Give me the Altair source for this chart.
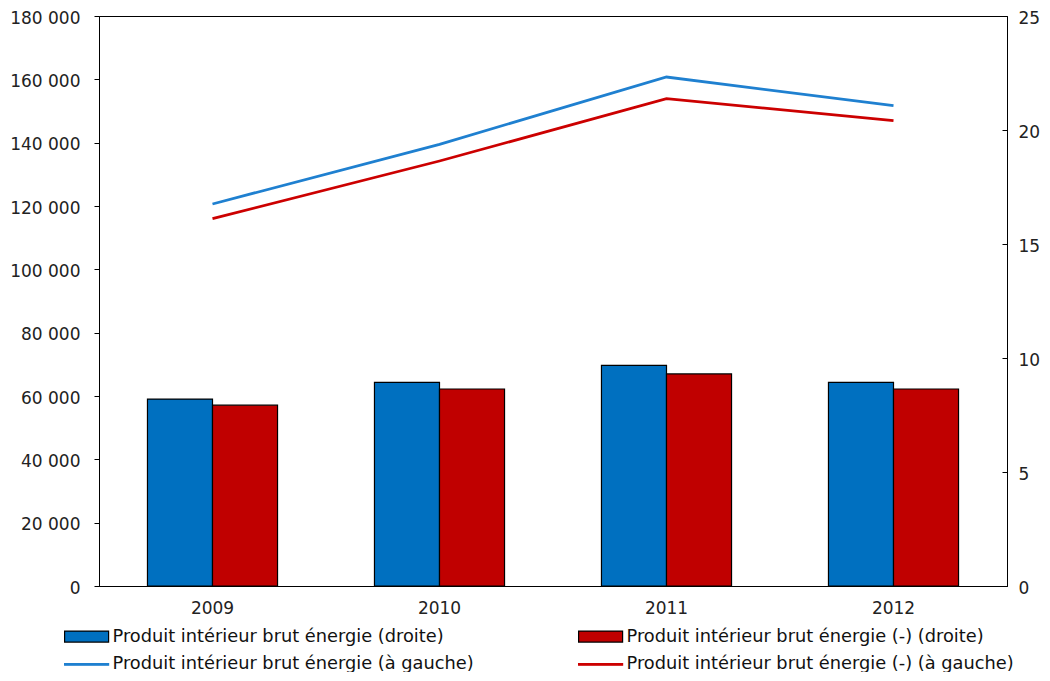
import altair as alt
import pandas as pd

years = ["2009", "2010", "2011", "2012"]
bar_blue = [8.20, 8.93, 9.68, 8.93]
bar_red = [7.93, 8.64, 9.30, 8.64]
line_blue = [120630, 139480, 160740, 151670]
line_red = [115990, 134210, 153880, 146940]

s_bar_blue = "Produit intérieur brut énergie (droite)"
s_bar_red = "Produit intérieur brut énergie (-) (droite)"
s_line_blue = "Produit intérieur brut énergie (à gauche)"
s_line_red = "Produit intérieur brut énergie (-) (à gauche)"
series = [s_bar_blue, s_bar_red, s_line_blue, s_line_red]

left_ticks = [0, 20000, 40000, 60000, 80000, 100000, 120000, 140000, 160000, 180000]
right_ticks = [0, 5, 10, 15, 20, 25]

BLUE_BAR = "#0070C0"
RED_BAR = "#C00000"
BLUE_LINE = "#1F80D0"
RED_LINE = "#CC0000"

bars_df = pd.DataFrame({
    "year": years * 2,
    "series": [s_bar_blue] * 4 + [s_bar_red] * 4,
    "value": bar_blue + bar_red,
})
lines_df = pd.DataFrame({
    "year": years * 2,
    "series": [s_line_blue] * 4 + [s_line_red] * 4,
    "value": line_blue + line_red,
})
legend_df = pd.DataFrame({"series": series})

FONT = "DejaVu Sans"
rect_path = "M-3.667,-0.917H3.667V0.917H-3.667Z"
line_path = "M-3.667,-0.125H3.667V0.125H-3.667Z"

fill_scale = alt.Scale(domain=series, range=[BLUE_BAR, RED_BAR, BLUE_LINE, RED_LINE])
stroke_scale = alt.Scale(domain=series, range=["#000000", "#000000", BLUE_LINE, RED_LINE])
shape_scale = alt.Scale(domain=series, range=[rect_path, rect_path, line_path, line_path])


def leg():
    return alt.Legend(orient="none", legendX=-21.3, legendY=611.5, values=series,
                      direction="horizontal",
                      columns=2, columnPadding=102, rowPadding=9,
                      labelFontSize=17.8, labelFont=FONT, labelColor="#111",
                      labelOffset=17, labelLimit=600, symbolSize=144,
                      symbolStrokeWidth=1.2, symbolOpacity=1, padding=0, title=None)


x_enc = alt.X(
    "year:N",
    sort=years,
    title=None,
    scale=alt.Scale(paddingInner=0.427, paddingOuter=0.2135),
    axis=alt.Axis(labelAngle=0, ticks=False, labelPadding=14, labelFontSize=17,
                  labelFont=FONT, labelColor="#222", domainColor="#000"),
)

lines = alt.Chart(lines_df).mark_line(strokeWidth=2.8).encode(
    x=x_enc,
    y=alt.Y(
        "value:Q",
        title=None,
        scale=alt.Scale(domain=[0, 180000], nice=False),
        axis=alt.Axis(orient="left", values=left_ticks, grid=False, tickSize=5,
                      tickColor="#000", domainColor="#000", labelPadding=14,
                      labelOffset=2,
                      labelFontSize=17, labelFont=FONT, labelColor="#222",
                      labelExpr="replace(format(datum.value, ','), ',', ' ')"),
    ),
    stroke=alt.Stroke("series:N", scale=stroke_scale, title=None, legend=leg()),
)

bars = alt.Chart(bars_df).mark_bar(strokeWidth=1.2).encode(
    x=x_enc,
    xOffset=alt.XOffset("series:N", sort=[s_bar_blue, s_bar_red],
                        scale=alt.Scale(paddingInner=0, paddingOuter=0)),
    y=alt.Y(
        "value:Q",
        title=None,
        scale=alt.Scale(domain=[0, 25], nice=False),
        axis=alt.Axis(orient="right", values=right_ticks, grid=False,
                      tickSize=alt.ExprRef(expr="-5"),
                      tickColor="#000", domainColor="#000", labelPadding=16,
                      labelOffset=2,
                      labelFontSize=17, labelFont=FONT, labelColor="#222"),
    ),
    fill=alt.Fill("series:N", scale=fill_scale, title=None, legend=leg()),
    stroke=alt.Stroke("series:N", scale=stroke_scale, title=None, legend=leg()),
)

legend_pts = alt.Chart(legend_df).mark_point(filled=True, size=0, opacity=1).encode(
    x=alt.value(0),
    y=alt.value(0),
    fill=alt.Fill("series:N", scale=fill_scale, title=None, legend=leg()),
    stroke=alt.Stroke("series:N", scale=stroke_scale, title=None, legend=leg()),
    shape=alt.Shape("series:N", scale=shape_scale, title=None, legend=leg()),
)

chart = (
    alt.layer(lines, bars, legend_pts)
    .resolve_scale(y="independent")
    .properties(
        width=908,
        height=570,
        autosize=alt.AutoSizeParams(type="none"),
        padding={"left": 91, "top": 8, "right": 35, "bottom": 86},
        background="white",
    )
    .configure_view(stroke="#000", strokeWidth=1)
)

chart.save("out.html", embed_options={"renderer": "svg", "actions": False})
